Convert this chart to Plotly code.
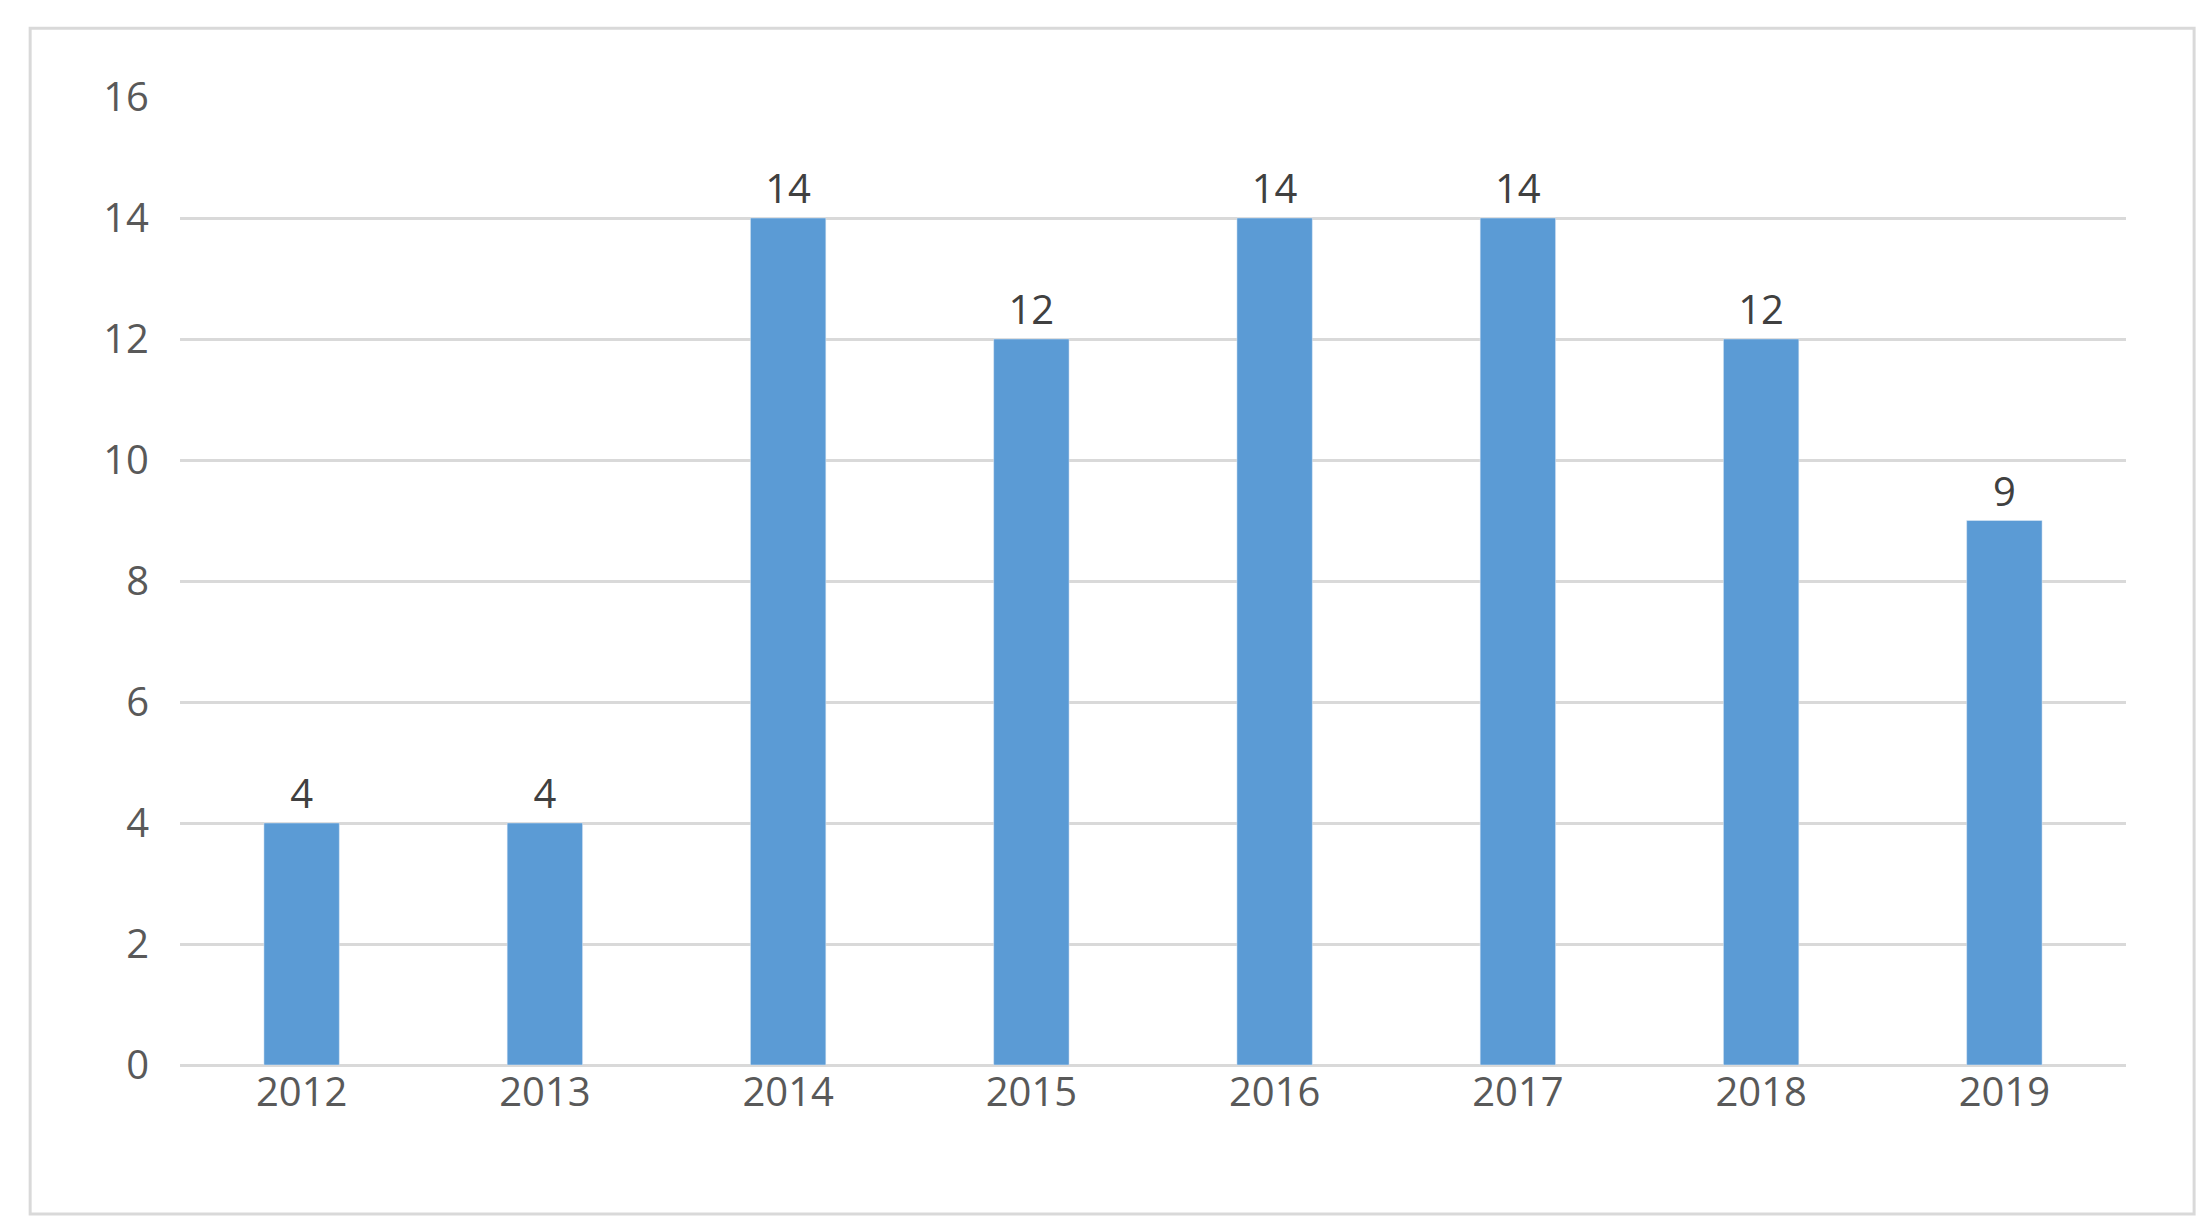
import plotly.graph_objects as go

years = ["2012", "2013", "2014", "2015", "2016", "2017", "2018", "2019"]
counts = [4, 4, 14, 12, 14, 14, 12, 9]
y_ticks = [0, 2, 4, 6, 8, 10, 12, 14, 16]

fig = go.Figure(go.Bar(
    x=years, y=counts, width=0.31, marker_color="#5b9bd5",
    text=[str(v) for v in counts], textposition="outside",
    textfont=dict(size=40, color="#404040", family="Open Sans"),
    cliponaxis=False,
))
fig.update_layout(
    width=2210, height=1226, paper_bgcolor="white", plot_bgcolor="white",
    margin=dict(l=172, r=92, t=89, b=169), showlegend=False,
    font=dict(family="Open Sans", size=40, color="#595959"),
    xaxis=dict(showgrid=False, ticks="", showline=False),
    yaxis=dict(range=[0, 16], tickvals=y_ticks, showgrid=True, gridcolor="#d9d9d9",
               gridwidth=3, zeroline=True, zerolinecolor="#d9d9d9", zerolinewidth=3,
               ticks="", ticklabelstandoff=30),
    shapes=[dict(type="rect", xref="paper", yref="paper", x0=-0.077, x1=1.035,
                 y0=-0.154, y1=1.071, line=dict(color="#d9d9d9", width=3))],
)
fig.write_html("out.html")
